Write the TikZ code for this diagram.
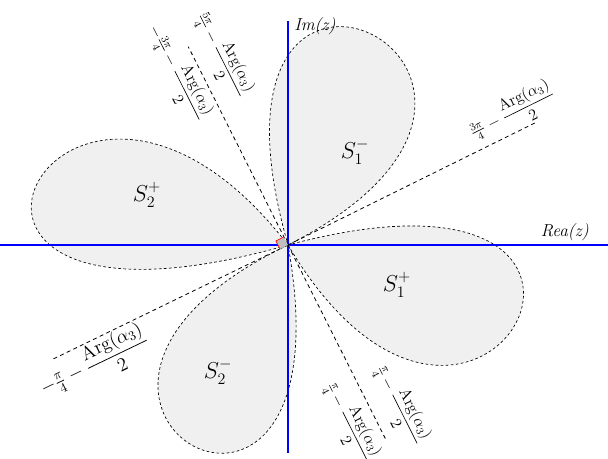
\documentclass[tikz,border=0pt]{standalone}
\usepackage{amsmath}
\usetikzlibrary{calc}
\begin{document}
\begin{tikzpicture}[
      x=0.75pt, y=0.75pt,
      every node/.style={font=\large, inner sep=1pt},
      petal/.style={draw, dash pattern=on 2pt off 1.8pt, line width=0.5pt, fill=black!6},
      axisline/.style={draw=blue, line width=0.8pt},
      ray/.style={draw, dash pattern=on 3pt off 2.5pt, line width=0.6pt},
      anglab/.style={rotate=#1},
      region/.style={font=\LARGE},
      axlab/.style={font=\fontsize{13}{15}\selectfont\itshape, inner sep=0pt},
    ]
    \useasboundingbox (-288,-214) rectangle (320,245);
    \coordinate (O) at (0,0);

    \path[petal] (O) .. controls (335,170) and (-112,392) .. (O);
    \path[petal] (O) .. controls (-226,292) and (-442,-126) .. (O);
    \path[petal] (O) .. controls (-324,-156) and (68,-378) .. (O);
    \path[petal] (O) .. controls (190,-320) and (418,112) .. (O);

    \coordinate (xw) at (-288,0);
    \coordinate (xe) at (320,0);
    \coordinate (ys) at (0,-208);
    \coordinate (yn) at (0,224);
    \draw[axisline] (xw) -- (xe);
    \draw[axisline] (ys) -- (yn);

    \coordinate (r1) at (26.3:278);
    \coordinate (r2) at (205.9:261);
    \coordinate (r3) at (116.7:222);
    \coordinate (r4) at (-63.3:220);
    \draw[ray] (O) -- (r1);
    \draw[ray] (O) -- (r2);
    \draw[ray] (O) -- (r3);
    \draw[ray] (O) -- (r4);

    \coordinate (m1) at (116.7:9);
    \coordinate (m2) at (206.7:9);
    \coordinate (m3) at ($(m1)+(m2)$);
    \fill[gray!50] (O) -- (m1) -- (m3) -- (m2) -- cycle;
    \draw[red, line width=0.5pt] (m1) -- (m3) -- (m2);

    \node[axlab, anchor=west] (im) at (6,219) {Im(z)};
    \node[axlab, anchor=east] (re) at (301,13) {Rea(z)};

    \node[region] (s1m) at (67,93)   {$S_1^-$};
    \node[region] (s2p) at (-141,50) {$S_2^+$};
    \node[region] (s1p) at (109,-40) {$S_1^+$};
    \node[region] (s2m) at (-70,-127) {$S_2^-$};

    \node[anglab=26.3]  (l1) at (224,133)
      {$\tfrac{3\pi}{4}-\dfrac{\mathrm{Arg}(\alpha_3)}{2}$};
    \node[anglab=-63.3] (l2) at (-66,190)
      {$\tfrac{5\pi}{4}-\dfrac{\mathrm{Arg}(\alpha_3)}{2}$};
    \node[anglab=-63.3] (l3) at (-110,172)
      {$-\tfrac{3\pi}{4}-\dfrac{\mathrm{Arg}(\alpha_3)}{2}$};
    \node[anglab=-63.3] (l4) at (112,-160)
      {$\tfrac{\pi}{4}-\dfrac{\mathrm{Arg}(\alpha_3)}{2}$};
    \node[anglab=-63.3] (l5) at (62,-177)
      {$\tfrac{\pi}{4}-\dfrac{\mathrm{Arg}(\alpha_3)}{2}$};
    \node[anglab=25.7, font=\Large] (l6) at (-194,-118)
      {$-\tfrac{\pi}{4}-\dfrac{\mathrm{Arg}(\alpha_3)}{2}$};
  \end{tikzpicture}
\end{document}
